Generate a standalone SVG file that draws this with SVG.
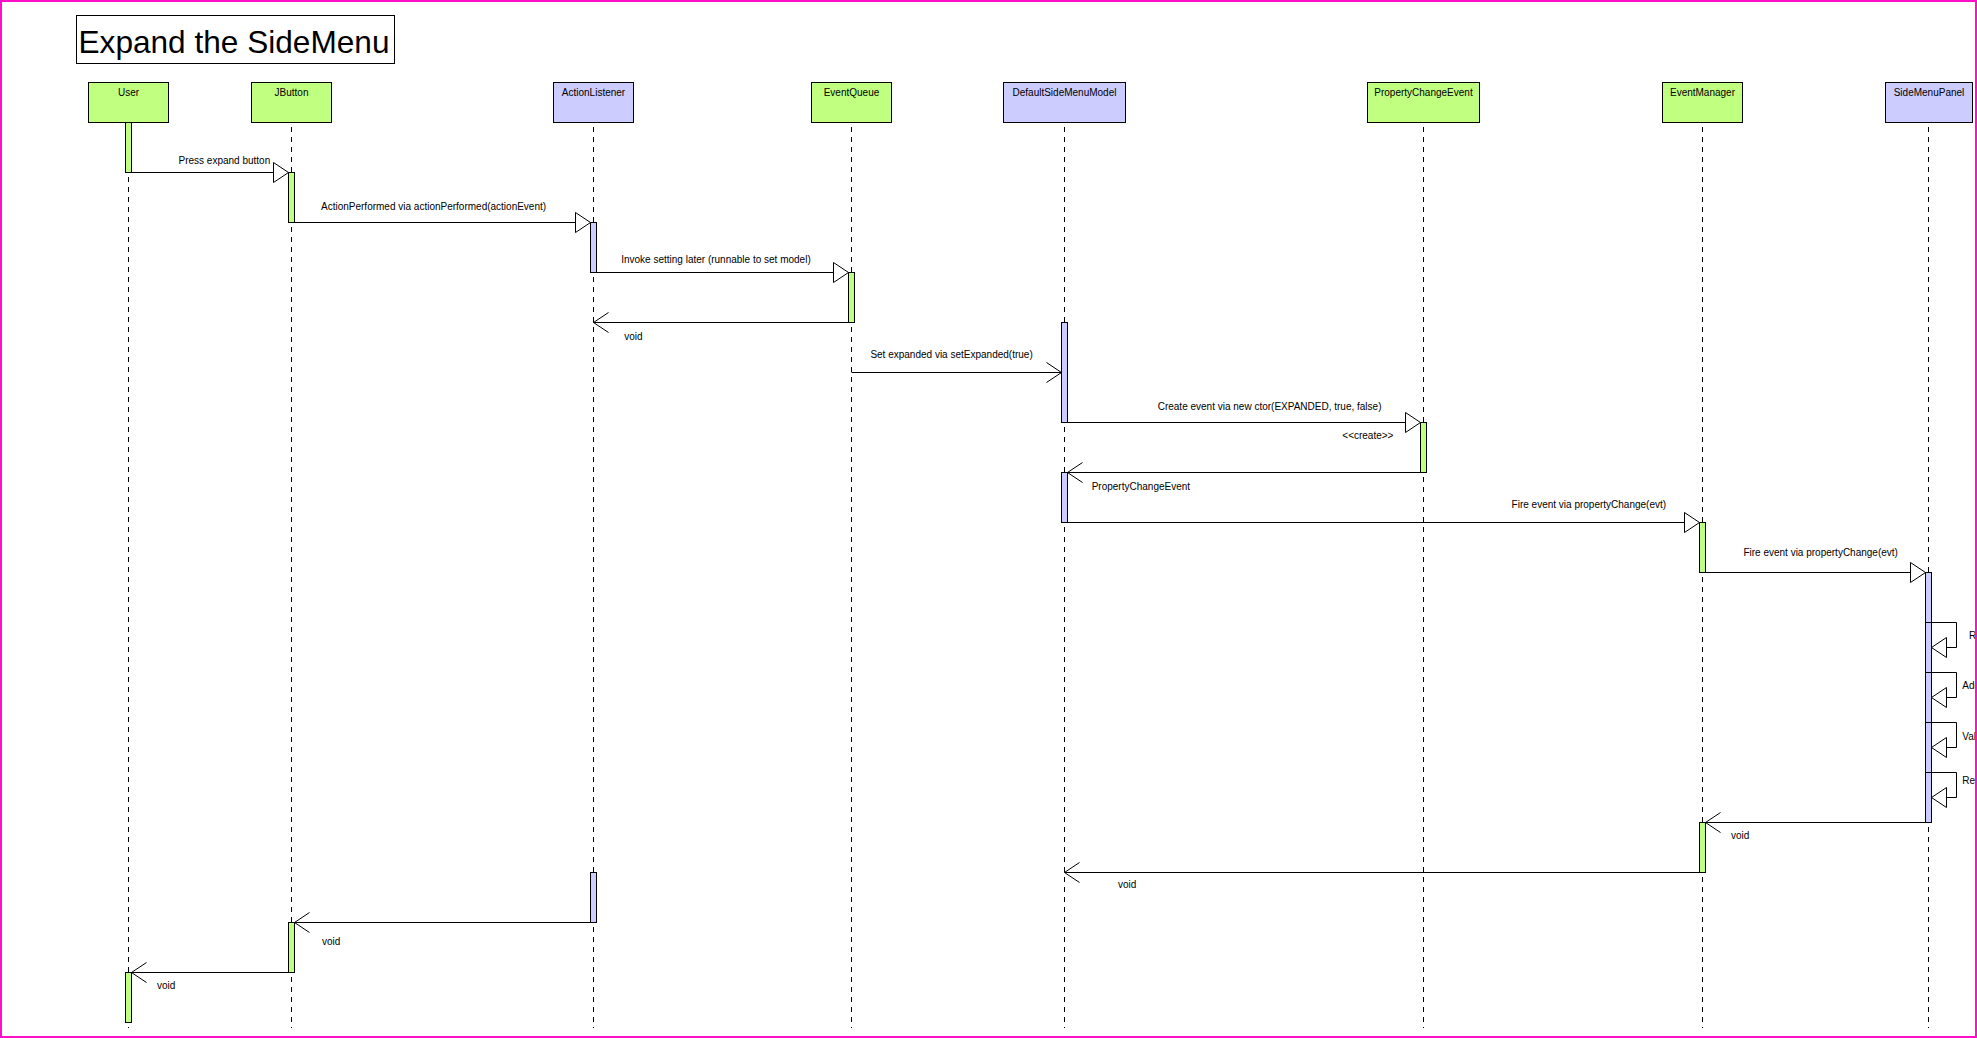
<svg xmlns="http://www.w3.org/2000/svg" width="1977" height="1038" viewBox="0 0 1977 1038">
  <style>
    text { font-family: "Liberation Sans", Arial, sans-serif; font-size: 10px; fill: #000; }
    .head { stroke: #000; stroke-width: 1; }
    .green { fill: #c0ff80; }
    .blue { fill: #ccccff; }
    .life { stroke: #000; stroke-width: 1; stroke-dasharray: 5 5; fill: none; }
    .bar { stroke: #000; stroke-width: 1; }
    .call { stroke: #000; stroke-width: 1; fill: none; marker-end: url(#tri); }
    .ret { stroke: #000; stroke-width: 1; fill: none; marker-end: url(#open); }
    .async { stroke: #000; stroke-width: 1; fill: none; marker-end: url(#open); }
    .name { text-anchor: middle; }
  </style>
  <defs>
    <!-- hollow triangle head for synchronous calls -->
    <marker id="tri" markerUnits="userSpaceOnUse" markerWidth="17" markerHeight="23" refX="15.5" refY="11.5" orient="auto">
      <path d="M0.5,1.5 L15.5,11.5 L0.5,21.5 Z" fill="#fff" stroke="#000" stroke-width="1"/>
    </marker>
    <!-- open stick head for returns and async messages -->
    <marker id="open" markerUnits="userSpaceOnUse" markerWidth="17" markerHeight="23" refX="15.5" refY="11.5" orient="auto">
      <path d="M0.5,1.5 L15.5,11.5 L0.5,21.5" fill="none" stroke="#000" stroke-width="1"/>
    </marker>
    <clipPath id="edge">
      <rect x="0" y="0" width="1975" height="1038"/>
    </clipPath>
  </defs>

  <rect x="0" y="0" width="1977" height="1038" fill="#fff"/>

  <!-- title -->
  <g id="title">
    <rect x="76.5" y="15.5" width="318" height="48" fill="#fff" stroke="#000" stroke-width="1"/>
    <text x="78.5" y="52.5" style="font-size:31.5px" textLength="311" lengthAdjust="spacingAndGlyphs">Expand the SideMenu</text>
  </g>

  <!-- lifelines with their activation bars -->
  <g id="user">
    <line class="life" x1="128.5" y1="127" x2="128.5" y2="1028"/>
    <rect class="head green" x="88.5" y="82.5" width="80" height="40"/>
    <text class="name" x="128.5" y="96">User</text>
    <rect class="bar green" x="125.5" y="122.5" width="6" height="50"/>
    <rect class="bar green" x="125.5" y="972.5" width="6" height="50"/>
  </g>
  <g id="jbutton">
    <line class="life" x1="291.5" y1="127" x2="291.5" y2="1028"/>
    <rect class="head green" x="251.5" y="82.5" width="80" height="40"/>
    <text class="name" x="291.5" y="96">JButton</text>
    <rect class="bar green" x="288.5" y="172.5" width="6" height="50"/>
    <rect class="bar green" x="288.5" y="922.5" width="6" height="50"/>
  </g>
  <g id="actionlistener">
    <line class="life" x1="593.5" y1="127" x2="593.5" y2="1028"/>
    <rect class="head blue" x="553.5" y="82.5" width="80" height="40"/>
    <text class="name" x="593.5" y="96">ActionListener</text>
    <rect class="bar blue" x="590.5" y="222.5" width="6" height="50"/>
    <rect class="bar blue" x="590.5" y="872.5" width="6" height="50"/>
  </g>
  <g id="eventqueue">
    <line class="life" x1="851.5" y1="127" x2="851.5" y2="1028"/>
    <rect class="head green" x="811.5" y="82.5" width="80" height="40"/>
    <text class="name" x="851.5" y="96">EventQueue</text>
    <rect class="bar green" x="848.5" y="272.5" width="6" height="50"/>
  </g>
  <g id="defaultsidemenumodel">
    <line class="life" x1="1064.5" y1="127" x2="1064.5" y2="1028"/>
    <rect class="head blue" x="1003.5" y="82.5" width="122" height="40"/>
    <text class="name" x="1064.5" y="96">DefaultSideMenuModel</text>
    <rect class="bar blue" x="1061.5" y="322.5" width="6" height="100"/>
    <rect class="bar blue" x="1061.5" y="472.5" width="6" height="50"/>
  </g>
  <g id="propertychangeevent">
    <line class="life" x1="1423.5" y1="127" x2="1423.5" y2="1028"/>
    <rect class="head green" x="1367.5" y="82.5" width="112" height="40"/>
    <text class="name" x="1423.5" y="96">PropertyChangeEvent</text>
    <rect class="bar green" x="1420.5" y="422.5" width="6" height="50"/>
  </g>
  <g id="eventmanager">
    <line class="life" x1="1702.5" y1="127" x2="1702.5" y2="1028"/>
    <rect class="head green" x="1662.5" y="82.5" width="80" height="40"/>
    <text class="name" x="1702.5" y="96">EventManager</text>
    <rect class="bar green" x="1699.5" y="522.5" width="6" height="50"/>
    <rect class="bar green" x="1699.5" y="822.5" width="6" height="50"/>
  </g>
  <g id="sidemenupanel">
    <line class="life" x1="1928.5" y1="127" x2="1928.5" y2="1028"/>
    <rect class="head blue" x="1885.5" y="82.5" width="87" height="40"/>
    <text class="name" x="1929" y="96">SideMenuPanel</text>
    <rect class="bar blue" x="1925.5" y="572.5" width="6" height="250"/>
    <rect class="bar blue" x="1925.5" y="622.5" width="6" height="50"/>
    <rect class="bar blue" x="1925.5" y="672.5" width="6" height="50"/>
    <rect class="bar blue" x="1925.5" y="722.5" width="6" height="50"/>
    <rect class="bar blue" x="1925.5" y="772.5" width="6" height="50"/>
  </g>

  <!-- messages -->
  <g id="connectors">
    <path class="call" d="M131.5,172.5 H288.5"/>
    <text x="178.5" y="164.4">Press expand button</text>

    <path class="call" d="M294.5,222.5 H590.5"/>
    <text x="321" y="210.4">ActionPerformed via actionPerformed(actionEvent)</text>

    <path class="call" d="M596.5,272.5 H848.5"/>
    <text x="621.2" y="263.4">Invoke setting later (runnable to set model)</text>

    <path class="ret" d="M848.5,322.5 H593.5"/>
    <text x="624.2" y="340.4">void</text>

    <path class="async" d="M851.5,372.5 H1061.5"/>
    <text x="870.4" y="358.4">Set expanded via setExpanded(true)</text>

    <path class="call" d="M1067.5,422.5 H1420.5"/>
    <text x="1157.7" y="410.4">Create event via new ctor(EXPANDED, true, false)</text>
    <text x="1342.3" y="438.8">&lt;&lt;create&gt;&gt;</text>

    <path class="ret" d="M1420.5,472.5 H1067.5"/>
    <text x="1091.7" y="490.4">PropertyChangeEvent</text>

    <path class="call" d="M1067.5,522.5 H1699.5"/>
    <text x="1511.6" y="508.4">Fire event via propertyChange(evt)</text>

    <path class="call" d="M1705.5,572.5 H1925.5"/>
    <text x="1743.4" y="556.4">Fire event via propertyChange(evt)</text>

    <!-- self calls on SideMenuPanel, labels run past the frame -->
    <path class="call" d="M1931.5,622.5 H1956.5 V647.5 H1931.5"/>
    <path class="call" d="M1931.5,672.5 H1956.5 V697.5 H1931.5"/>
    <path class="call" d="M1931.5,722.5 H1956.5 V747.5 H1931.5"/>
    <path class="call" d="M1931.5,772.5 H1956.5 V797.5 H1931.5"/>
    <g clip-path="url(#edge)">
      <text x="1969" y="639.4">R</text>
      <text x="1962.3" y="689.4">Ado</text>
      <text x="1962.3" y="740.4">Val</text>
      <text x="1962.3" y="784.4">Re</text>
    </g>

    <path class="ret" d="M1925.5,822.5 H1705.5"/>
    <text x="1731" y="839.2">void</text>

    <path class="ret" d="M1699.5,872.5 H1064.5"/>
    <text x="1118" y="888.4">void</text>

    <path class="ret" d="M590.5,922.5 H294.5"/>
    <text x="322" y="945.4">void</text>

    <path class="ret" d="M288.5,972.5 H131.5"/>
    <text x="157" y="989.4">void</text>
  </g>

  <!-- frame -->
  <rect x="1" y="1" width="1975" height="1036" fill="none" stroke="#ff10c8" stroke-width="2"/>
</svg>
